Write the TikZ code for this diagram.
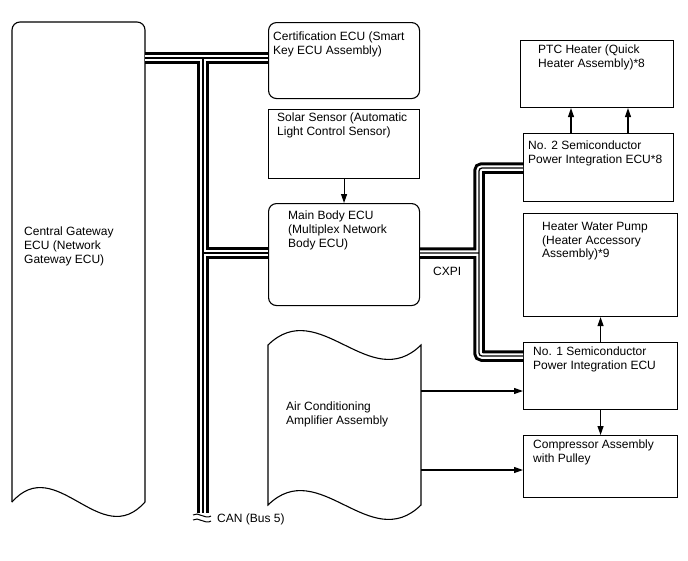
\documentclass[tikz,border=0pt]{standalone}
\usepackage{fontspec}
\setmainfont{Liberation Sans}
\usetikzlibrary{arrows.meta, positioning, calc}

\tikzset{
  unitbox/.style={draw, line width=1.1pt, anchor=north west, inner sep=0pt},
  roundbox/.style={unitbox, rounded corners=8pt},
  areabox/.style={anchor=north west, inner sep=0pt},
  boxtext/.style={anchor=north west, align=left, inner sep=0pt, font=\fontsize{12}{13.7}\selectfont},
  sigarrow/.style={line width=1.1pt, -{Triangle[length=9pt,width=6pt]}},
}

\begin{document}
\begin{tikzpicture}[x=1pt, y=-1pt]
  \useasboundingbox (0,0) rectangle (688,560);

  % outline shapes
  \node[areabox, minimum width=133pt, minimum height=480pt] (gw) at (12,22) {};
  \draw[line width=1.1pt, rounded corners=8pt] (12,502) -- (12,22) -- (145,22) -- (145,502);
  \draw[line width=1.1pt] (145,502) .. controls (100.7,552) and (56.3,452) .. (12,502);
  \node[boxtext] (gw-t) at (24,227) {Central Gateway\\ECU (Network\\Gateway ECU)};

  \node[areabox, minimum width=153pt, minimum height=160pt] (ac) at (268,345) {};
  \draw[line width=1.1pt] (268,345) .. controls (319,295) and (370,395) .. (421,345) -- (421,505)
    .. controls (370,555) and (319,455) .. (268,505) -- cycle;
  \node[boxtext] (ac-t) at (286,402) {Air Conditioning\\Amplifier Assembly};

  % middle column
  \node[roundbox, minimum width=151pt, minimum height=76pt] (cert) at (268,22) {};
  \node[boxtext] (cert-t) at (273,32) {Certification ECU (Smart\\Key ECU Assembly)};
  \node[unitbox, minimum width=151pt, minimum height=69pt] (solar) at (268,109) {};
  \node[boxtext] (solar-t) at (277,113) {Solar Sensor (Automatic\\Light Control Sensor)};
  \node[roundbox, minimum width=151pt, minimum height=102pt] (mb) at (268,203) {};
  \node[boxtext] (mb-t) at (288,211) {Main Body ECU\\(Multiplex Network\\Body ECU)};

  % right column
  \node[unitbox, minimum width=153pt, minimum height=67pt] (ptc) at (520,40) {};
  \node[boxtext] (ptc-t) at (538,45) {PTC Heater (Quick\\Heater Assembly)*8};
  \node[unitbox, minimum width=150pt, minimum height=68pt] (no2) at (523,133) {};
  \node[boxtext] (no2-t) at (528,141) {No. 2 Semiconductor\\Power Integration ECU*8};
  \node[unitbox, minimum width=154pt, minimum height=103pt] (pump) at (523,213) {};
  \node[boxtext] (pump-t) at (542,222) {Heater Water Pump\\(Heater Accessory\\Assembly)*9};
  \node[unitbox, minimum width=154pt, minimum height=67pt] (no1) at (523,342) {};
  \node[boxtext] (no1-t) at (533,347) {No. 1 Semiconductor\\Power Integration ECU};
  \node[unitbox, minimum width=154pt, minimum height=62pt] (comp) at (523,435) {};
  \node[boxtext] (comp-t) at (533,440) {Compressor Assembly\\with Pulley};

  % CAN bus
  \coordinate (canT) at (203,58);
  \coordinate (canbr) at (203,253);
  \coordinate (canend) at (203,513);
  \foreach \w/\c in {11.5/black, 5.5/white, 1.3/black}
    \draw[line width=\w pt, \c] (gw.east |- canT) -- (cert.west |- canT)
      (canT) -- (canend) (canbr) -- (mb.west |- canbr);
  \draw[line width=1pt] (193,515) .. controls (198,511) and (205,520) .. (211,516);
  \draw[line width=1pt] (193,520) .. controls (198,516) and (205,525) .. (211,521);
  \node[boxtext, anchor=west] (can-t) at (217,519) {CAN (Bus 5)};

  % CXPI
  \coordinate (cxT) at (479,253);
  \foreach \w/\c in {11.5/black, 5.5/white, 1.3/black}
    \draw[line width=\w pt, \c, rounded corners=3pt] (no2.west |- 0,168) -- (479,168)
      -- (479,356) -- (no1.west |- 0,356) (mb.east |- cxT) -- (cxT);
  \node[boxtext, anchor=west] (cxpi-t) at (433,271) {CXPI};

  % signals
  \draw[sigarrow] (solar.south) -- (mb.north);
  \draw[sigarrow] (no2.north -| 571,0) -- (ptc.south -| 571,0);
  \draw[sigarrow] (no2.north -| 628,0) -- (ptc.south -| 628,0);
  \draw[sigarrow] (no1.north) -- (pump.south);
  \draw[sigarrow] (no1.south) -- (comp.north);
  \draw[sigarrow] (ac.east |- 0,391) -- (no1.west |- 0,391);
  \draw[sigarrow] (ac.east |- 0,470) -- (comp.west |- 0,470);
\end{tikzpicture}
\end{document}
